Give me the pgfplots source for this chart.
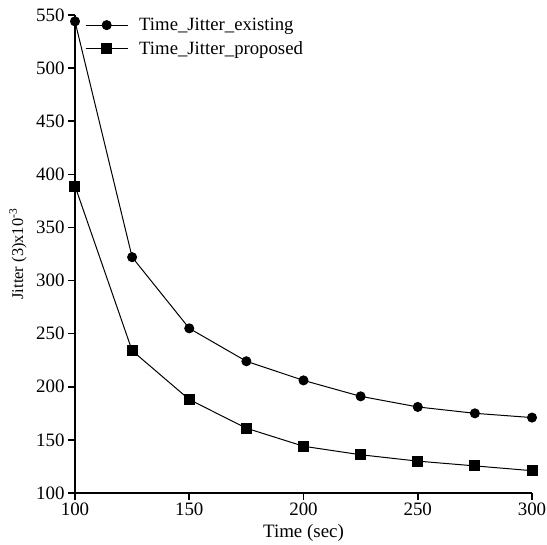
\documentclass[border=0pt]{standalone}
\usepackage{pgfplots}
\pgfplotsset{compat=1.18}
\usepackage{fontspec}
\setmainfont{Liberation Serif}
\begin{document}
\begin{tikzpicture}
\begin{axis}[
  name=main,
  scale only axis,
  width=457bp, height=478bp,
  xmin=100, xmax=300, ymin=100, ymax=550,
  axis lines=left,
  axis line style={line width=1.6bp, -},
  xtick={100,150,...,300},
  ytick={100,150,...,550},
  tick align=outside,
  major tick length=7bp,
  tick style={line width=1.6bp, black},
  /pgf/number format/assume math mode=true,
  tick label style={font=\fontsize{19}{21}\selectfont},
  xticklabel style={yshift=1bp},
  xlabel={Time (sec)},
  ylabel={Jitter (3)x10\textsuperscript{-3}},
  xlabel style={font=\fontsize{19}{21}\selectfont, at={(axis description cs:0.5,0)}, anchor=center, yshift=-40bp},
  ylabel style={font=\fontsize{16.5}{18}\selectfont, at={(axis description cs:0,0.5)}, anchor=center, yshift=57bp},
  clip=false,
  legend image code/.code={\draw[mark repeat=2,mark phase=2,#1] plot coordinates {(0bp,0bp) (21bp,0bp) (42bp,0bp)};},
  legend style={draw=none, fill=none, at={(rel axis cs:0,1)}, anchor=north west, xshift=8bp, yshift=1bp,
    inner sep=2bp, row sep=5bp, font=\fontsize{18.8}{20}\selectfont,
    nodes={inner xsep=5bp}},
  legend cell align=left,
]
\addplot[black, line width=1bp, mark=*, mark size=4.5bp] coordinates {
(100,544) (125,322) (150,255) (175,224) (200,206) (225,191) (250,181) (275,175) (300,171)
};
\addlegendentry{\hspace{6bp}Time\_Jitter\_existing}
\addplot[black, line width=1bp, mark=square*, mark size=5bp] coordinates {
(100,389) (125,234) (150,188) (175,161) (200,144) (225,136) (250,130) (275,125.5) (300,121)
};
\addlegendentry{\hspace{6bp}Time\_Jitter\_proposed}
\end{axis}
\pgfresetboundingbox
\path ([xshift=-75bp,yshift=-52bp]main.south west) rectangle ([xshift=15bp,yshift=15bp]main.north east);
\end{tikzpicture}
\end{document}
